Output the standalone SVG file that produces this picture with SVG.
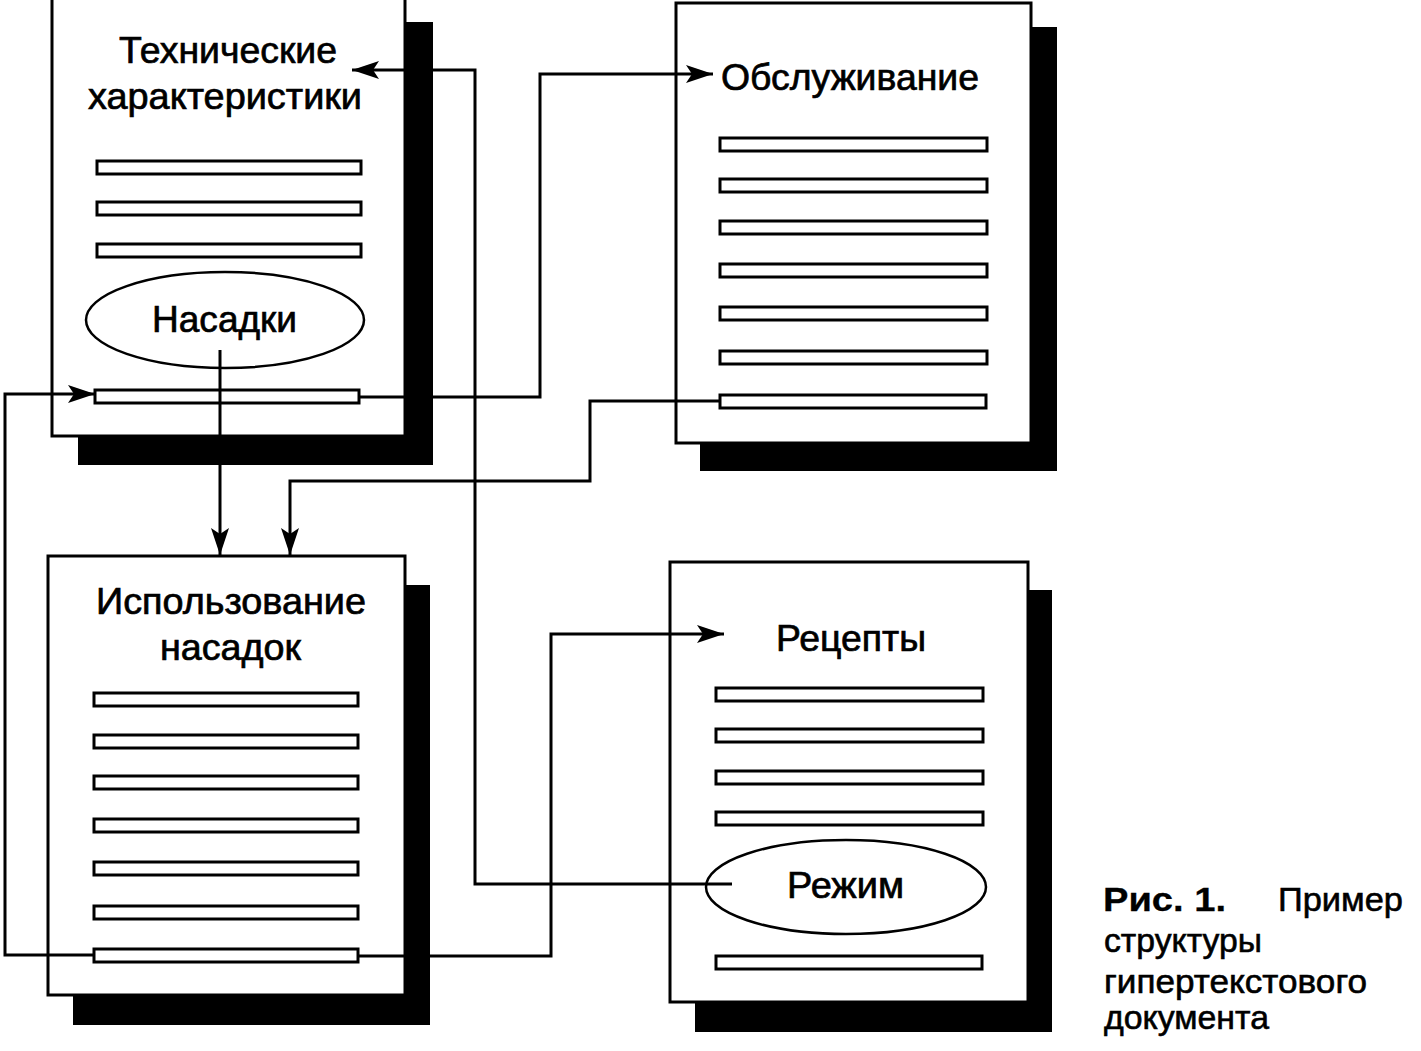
<svg xmlns="http://www.w3.org/2000/svg" width="1421" height="1051" viewBox="0 0 1421 1051">
<style>
.shadow{fill:#000;stroke:none}
.page{fill:#fff;stroke:#000;stroke-width:3}
.bar{fill:#fff;stroke:#000;stroke-width:3}
.oval{fill:#fff;stroke:#000;stroke-width:2.5}
.t{font-family:"Liberation Sans",Arial,sans-serif;font-size:37px;fill:#000;stroke:#000;stroke-width:0.7}
.cap{font-family:"Liberation Sans",Arial,sans-serif;font-size:34px;fill:#000;stroke:#000;stroke-width:0.6}
.cb{font-weight:bold;stroke-width:0.3}
.conn{fill:none;stroke:#000;stroke-width:3;stroke-linejoin:miter}
</style>
<defs>
<marker id="arr" viewBox="0 0 27 18" refX="27" refY="9" markerWidth="27" markerHeight="18" markerUnits="userSpaceOnUse" orient="auto">
<path d="M0,0 L27,9 L0,18 L6,9 Z" fill="#000"/>
</marker>
</defs>
<rect width="1421" height="1051" fill="#fff"/>

<g id="page-tech">
<rect class="shadow" x="78" y="22" width="355" height="443"/>
<rect class="page" x="52" y="-10" width="353" height="446"/>
<text class="t" x="119" y="63" textLength="218" lengthAdjust="spacingAndGlyphs">Технические</text>
<text class="t" x="88" y="109" textLength="274" lengthAdjust="spacingAndGlyphs">характеристики</text>
<rect class="bar" x="97" y="161" width="264" height="13"/>
<rect class="bar" x="97" y="202" width="264" height="13"/>
<rect class="bar" x="97" y="244" width="264" height="13"/>
<g id="link-nasadki">
<ellipse class="oval" cx="225" cy="320" rx="139" ry="48"/>
<text class="t" x="152" y="332" textLength="145" lengthAdjust="spacingAndGlyphs">Насадки</text>
</g>
<rect class="bar" x="95" y="390" width="264" height="13"/>
</g>

<g id="page-service">
<rect class="shadow" x="700" y="27" width="357" height="444"/>
<rect class="page" x="676" y="3" width="355" height="440"/>
<text class="t" x="721" y="90" textLength="258" lengthAdjust="spacingAndGlyphs">Обслуживание</text>
<rect class="bar" x="720" y="138" width="267" height="13"/>
<rect class="bar" x="720" y="179" width="267" height="13"/>
<rect class="bar" x="720" y="221" width="267" height="13"/>
<rect class="bar" x="720" y="264" width="267" height="13"/>
<rect class="bar" x="720" y="307" width="267" height="13"/>
<rect class="bar" x="720" y="351" width="267" height="13"/>
<rect class="bar" x="720" y="395" width="266" height="13"/>
</g>

<g id="page-usage">
<rect class="shadow" x="73" y="585" width="357" height="440"/>
<rect class="page" x="48" y="556" width="357" height="439"/>
<text class="t" x="96" y="614" textLength="270" lengthAdjust="spacingAndGlyphs">Использование</text>
<text class="t" x="160" y="660" textLength="141" lengthAdjust="spacingAndGlyphs">насадок</text>
<rect class="bar" x="94" y="693" width="264" height="13"/>
<rect class="bar" x="94" y="735" width="264" height="13"/>
<rect class="bar" x="94" y="776" width="264" height="13"/>
<rect class="bar" x="94" y="819" width="264" height="13"/>
<rect class="bar" x="94" y="862" width="264" height="13"/>
<rect class="bar" x="94" y="906" width="264" height="13"/>
<rect class="bar" x="94" y="949" width="264" height="13"/>
</g>

<g id="page-recipes">
<rect class="shadow" x="695" y="590" width="357" height="442"/>
<rect class="page" x="670" y="562" width="358" height="440"/>
<text class="t" x="776" y="651" textLength="150" lengthAdjust="spacingAndGlyphs">Рецепты</text>
<rect class="bar" x="716" y="688" width="267" height="13"/>
<rect class="bar" x="716" y="729" width="267" height="13"/>
<rect class="bar" x="716" y="771" width="267" height="13"/>
<rect class="bar" x="716" y="812" width="267" height="13"/>
<g id="link-rezhim">
<ellipse class="oval" cx="846" cy="887" rx="140" ry="47"/>
<text class="t" x="787" y="898" textLength="117" lengthAdjust="spacingAndGlyphs">Режим</text>
</g>
<rect class="bar" x="716" y="956" width="266" height="13"/>
</g>

<g id="connectors">
<polyline class="conn" points="732,884 475,884 475,70 352,70" marker-end="url(#arr)"/>
<polyline class="conn" points="220,350 220,555" marker-end="url(#arr)"/>
<polyline class="conn" points="359,397 540,397 540,74 713,74" marker-end="url(#arr)"/>
<polyline class="conn" points="720,401 590,401 590,481 290,481 290,555" marker-end="url(#arr)"/>
<polyline class="conn" points="358,956 551,956 551,634 724,634" marker-end="url(#arr)"/>
<polyline class="conn" points="94,955 5,955 5,394 95,394" marker-end="url(#arr)"/>
</g>

<g id="caption">
<text class="cap cb" x="1103" y="911" textLength="123" lengthAdjust="spacingAndGlyphs">Рис. 1.</text>
<text class="cap" x="1278" y="911" textLength="125" lengthAdjust="spacingAndGlyphs">Пример</text>
<text class="cap" x="1104" y="952" textLength="158" lengthAdjust="spacingAndGlyphs">структуры</text>
<text class="cap" x="1104" y="993" textLength="263" lengthAdjust="spacingAndGlyphs">гипертекстового</text>
<text class="cap" x="1104" y="1029" textLength="165" lengthAdjust="spacingAndGlyphs">документа</text>
</g>
</svg>
